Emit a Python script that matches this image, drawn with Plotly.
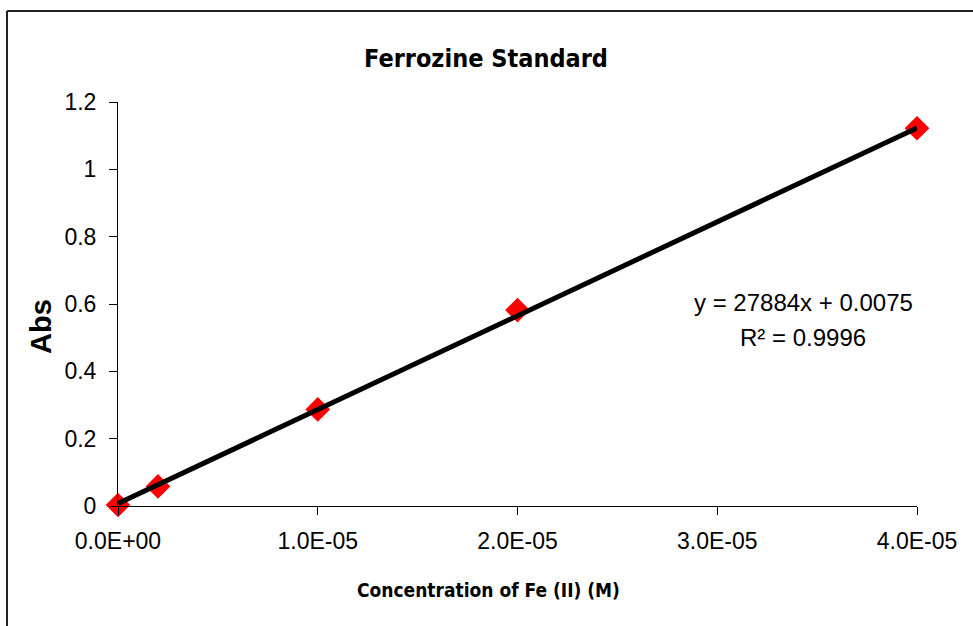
import plotly.graph_objects as go

conc = [0.0, 2e-6, 1e-5, 2e-5, 4e-5]
absorb = [0.003, 0.058, 0.287, 0.582, 1.122]
slope = 27884
intercept = 0.0075
r2 = 0.9996
x_ticks = [0, 1e-5, 2e-5, 3e-5, 4e-5]
x_ticktext = ["0.0E+00", "1.0E-05", "2.0E-05", "3.0E-05", "4.0E-05"]
y_ticks = [0, 0.2, 0.4, 0.6, 0.8, 1.0, 1.2]
y_ticktext = ["0", "0.2", "0.4", "0.6", "0.8", "1", "1.2"]

W, H = 973, 626
L, R, T, B = 118, 56, 102, 120
pw, ph = W - L - R, H - T - B

def px(x):
    return (x - L) / pw

def py(y):
    return (H - B - y) / ph

NARROW = "Liberation Sans Narrow, DejaVu Sans Condensed, Roboto Condensed, Arial Narrow, sans-serif"
SANS = "Liberation Sans, Arial, sans-serif"

fig = go.Figure()
fig.add_trace(go.Scatter(
    x=conc, y=absorb, mode="markers",
    marker=dict(symbol="diamond", size=19, color="#FF0000", line=dict(width=0)),
    cliponaxis=False, showlegend=False))
fit_x = [min(conc), max(conc)]
fit_y = [slope * v + intercept for v in fit_x]
fig.add_trace(go.Scatter(
    x=fit_x, y=fit_y, mode="lines",
    line=dict(color="black", width=5), cliponaxis=False, showlegend=False))

fig.update_layout(
    width=W, height=H,
    margin=dict(l=L, r=R, t=T, b=B),
    paper_bgcolor="white", plot_bgcolor="white",
    title=dict(text="<b>Ferrozine Standard</b>", x=486 / W, xanchor="center",
               y=1 - 58 / H, yanchor="middle", yref="container",
               font=dict(family=NARROW, size=25, color="black")),
    xaxis=dict(range=[0, 4e-5], tickvals=x_ticks, ticktext=x_ticktext,
               showgrid=False, zeroline=False, showline=True, linecolor="black", linewidth=1,
               ticks="outside", ticklen=8, tickcolor="black", ticklabelstandoff=6,
               tickfont=dict(family=SANS, size=23, color="black")),
    yaxis=dict(range=[0, 1.2], tickvals=y_ticks, ticktext=y_ticktext,
               showgrid=False, zeroline=False, showline=True, linecolor="black", linewidth=1,
               ticks="outside", ticklen=8, tickcolor="black", ticklabelstandoff=8,
               tickfont=dict(family=SANS, size=23, color="black")),
    annotations=[
        dict(text="<b>Concentration of Fe (II) (M)</b>", xref="paper", yref="paper",
             x=px(488), y=py(590), xanchor="center", yanchor="middle", showarrow=False,
             font=dict(family=NARROW, size=19, color="black")),
        dict(text="<b>Abs</b>", xref="paper", yref="paper", textangle=-90,
             x=px(41), y=py(327), xanchor="center", yanchor="middle", showarrow=False,
             font=dict(family=SANS, size=29, color="black")),
        dict(text=f"y = {slope}x + {intercept}", xref="paper", yref="paper",
             x=px(803), y=py(302), xanchor="center", yanchor="middle", showarrow=False,
             font=dict(family=SANS, size=24, color="black")),
        dict(text=f"R² = {r2}", xref="paper", yref="paper",
             x=px(803), y=py(337), xanchor="center", yanchor="middle", showarrow=False,
             font=dict(family=SANS, size=24, color="black")),
    ],
    shapes=[
        dict(type="line", xref="paper", yref="paper", x0=px(7), x1=px(7), y0=py(11), y1=py(640),
             line=dict(color="#222222", width=2)),
        dict(type="line", xref="paper", yref="paper", x0=px(7), x1=px(990), y0=py(11), y1=py(11),
             line=dict(color="#222222", width=2)),
    ],
)

fig.write_html("out.html")
